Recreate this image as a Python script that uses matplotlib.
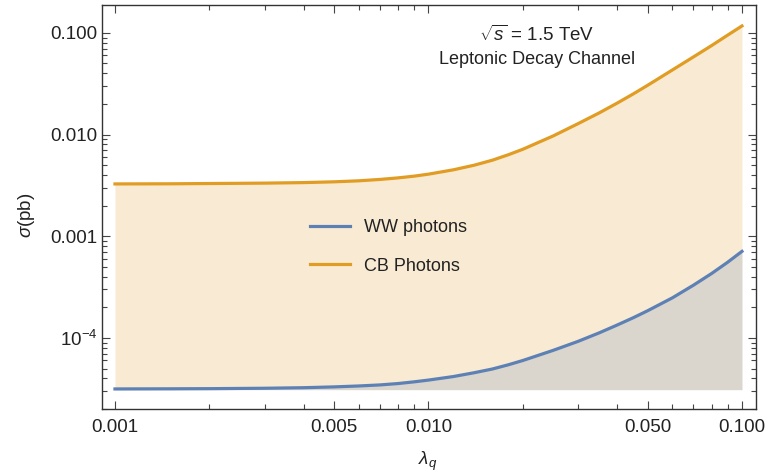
import numpy as np
import matplotlib
matplotlib.use("Agg")
import matplotlib.pyplot as plt
from matplotlib.ticker import FixedLocator, FixedFormatter, NullFormatter

plt.rcParams['font.family'] = ['Liberation Sans', 'DejaVu Sans']
plt.rcParams['mathtext.fontset'] = 'custom'
plt.rcParams['mathtext.rm'] = 'Liberation Sans'
plt.rcParams['mathtext.it'] = 'Liberation Sans:italic'

# values
lam = [0.001, 0.0015, 0.002, 0.003, 0.004, 0.005, 0.006, 0.007, 0.008, 0.009,
       0.01, 0.012, 0.014, 0.016, 0.018, 0.02, 0.025, 0.03, 0.035, 0.04,
       0.045, 0.05, 0.06, 0.07, 0.08, 0.09, 0.1]
sig_ww = [3.15e-5, 3.16e-5, 3.17e-5, 3.2e-5, 3.24e-5, 3.3e-5, 3.37e-5, 3.45e-5,
          3.56e-5, 3.7e-5, 3.85e-5, 4.17e-5, 4.55e-5, 4.95e-5, 5.45e-5, 6.0e-5,
          7.55e-5, 9.25e-5, 1.12e-4, 1.34e-4, 1.58e-4, 1.85e-4, 2.48e-4, 3.3e-4,
          4.3e-4, 5.55e-4, 7.1e-4]
sig_cb = [0.00327, 0.00328, 0.0033, 0.00333, 0.00337, 0.00343, 0.00351, 0.00362,
          0.00375, 0.0039, 0.00408, 0.0045, 0.005, 0.0056, 0.00634, 0.00717,
          0.0097, 0.0128, 0.0163, 0.0204, 0.0251, 0.0305, 0.0432, 0.058,
          0.075, 0.095, 0.117]
fill_base = 3.1e-5

xticks = [0.001, 0.005, 0.010, 0.050, 0.100]
xlabels = ['0.001', '0.005', '0.010', '0.050', '0.100']
yticks = [1e-4, 0.001, 0.010, 0.100]
ylabels = ['$10^{-4}$', '0.001', '0.010', '0.100']

blue = '#5E81B5'
orange = '#E19C24'
txt = '#222222'

fig = plt.figure(figsize=(7.69, 4.73), dpi=100)
ax = fig.add_axes([0.1326, 0.1353, 0.8504, 0.8541])

ax.fill_between(lam, fill_base, sig_cb, color=orange, alpha=0.2, lw=0)
ax.fill_between(lam, fill_base, sig_ww, color=blue, alpha=0.2, lw=0)
ax.plot(lam, sig_ww, color=blue, lw=2.3, label='WW photons')
ax.plot(lam, sig_cb, color=orange, lw=2.3, label='CB Photons')

ax.set_xscale('log')
ax.set_yscale('log')
ax.set_xlim(0.000909, 0.1108)
ax.set_ylim(2.0e-5, 0.188)

ax.xaxis.set_major_locator(FixedLocator(xticks))
ax.xaxis.set_major_formatter(FixedFormatter(xlabels))
xminor = [m * d for d in [0.001, 0.01] for m in range(2, 10) if m != 5]
ax.xaxis.set_minor_locator(FixedLocator(xminor))
ax.xaxis.set_minor_formatter(NullFormatter())

ax.yaxis.set_major_locator(FixedLocator(yticks))
ax.yaxis.set_major_formatter(FixedFormatter(ylabels))
yminor = [m * d for d in [1e-5, 1e-4, 1e-3, 1e-2, 1e-1] for m in range(2, 10)]
ax.yaxis.set_minor_locator(FixedLocator(yminor))
ax.yaxis.set_minor_formatter(NullFormatter())

ax.tick_params(which='both', direction='in', top=True, right=True,
               color='#444444', labelsize=13.5, labelcolor=txt, width=0.8)
ax.tick_params(which='major', length=6)
ax.tick_params(which='minor', length=3.5)
ax.tick_params(axis='x', which='major', pad=7)
for s in ax.spines.values():
    s.set_color('#333333')
    s.set_linewidth(1.0)

ax.set_ylabel(r'$\sigma$(pb)', fontsize=13.5, color=txt)
ax.set_xlabel(r'$\lambda_q$', fontsize=13.5, color=txt)
ax.yaxis.set_label_coords(-0.1, 0.48)
ax.xaxis.set_label_coords(0.498, -0.1)

ax.text(0.665, 0.925, r'$\sqrt{s}$ = 1.5 TeV', transform=ax.transAxes,
        ha='center', va='center', fontsize=13.5, color=txt)
ax.text(0.665, 0.865, 'Leptonic Decay Channel', transform=ax.transAxes,
        ha='center', va='center', fontsize=13, color=txt)

ax.legend(loc='upper left', bbox_to_anchor=(0.305, 0.493), frameon=False,
          fontsize=13, handlelength=2.2, handletextpad=0.75, labelspacing=1.2,
          borderpad=0, labelcolor=txt)

fig.savefig('out.png', dpi=100)
